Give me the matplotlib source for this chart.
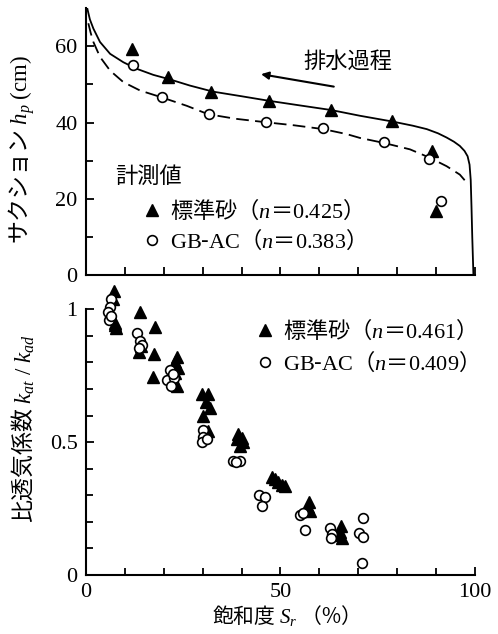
import matplotlib
matplotlib.use("Agg")
import matplotlib.pyplot as plt
from matplotlib.ticker import FixedLocator, NullFormatter

plt.rcParams['font.family'] = ['Liberation Serif', 'Noto Sans CJK JP']
plt.rcParams['mathtext.fontset'] = 'custom'
plt.rcParams['mathtext.rm'] = 'Liberation Serif'
plt.rcParams['mathtext.it'] = 'Liberation Serif:italic'
plt.rcParams['mathtext.bf'] = 'Liberation Serif:bold'
JP = 'Noto Sans CJK JP'

# 水分特性曲線（排水過程）の計測値
sr_std_top = [11.7, 21.2, 32.1, 47.1, 63.0, 78.7, 89.0, 90.0]
hp_std_top = [59.3, 51.9, 48.1, 45.7, 43.3, 40.3, 32.6, 16.8]
sr_gb_top = [12.2, 19.5, 31.6, 46.2, 61.0, 76.6, 88.2, 91.2]
hp_gb_top = [55.0, 46.6, 42.2, 40.1, 38.6, 34.8, 30.4, 19.4]

# フィット曲線（実線: 標準砂, 破線: GB-AC）
sr_std_fit = [0.3, 1.0, 1.9, 3.6, 6.2, 9.6, 13.0, 17.3, 21.6, 26.7, 32.7, 40.0,
              47.1, 55.0, 63.0, 70.4, 78.7, 84.0, 87.6, 90.5, 92.7, 94.6, 96.1,
              97.3, 98.1, 98.6, 98.9, 99.1, 99.3, 99.6]
hp_std_fit = [70.0, 67.0, 64.6, 61.1, 58.0, 55.8, 54.1, 52.5, 51.3, 49.7, 48.1, 46.9,
              45.7, 44.5, 43.3, 41.8, 40.3, 39.2, 38.3, 37.2, 36.1, 35.0, 33.9,
              32.6, 31.2, 29.0, 25.0, 18.0, 10.0, 0.0]
sr_gb_fit = [0.6, 1.2, 1.9, 3.6, 6.2, 9.6, 13.9, 19.5, 25.9, 31.4, 38.5, 46.2,
             53.5, 61.0, 67.0, 70.4, 76.5, 83.3, 88.4, 92.7, 96.1, 98.3]
hp_gb_fit = [66.0, 63.5, 61.1, 57.2, 53.6, 50.6, 48.4, 46.6, 44.4, 42.2, 41.0, 40.1,
             39.3, 38.3, 37.0, 36.0, 34.7, 33.0, 30.8, 28.6, 26.4, 23.8]

# 比透気係数
sr_std = [7.2, 7.0, 7.5, 7.8, 7.4,
          14.0, 17.7, 13.6, 14.2, 17.5, 17.3,
          23.3, 23.0, 23.6, 23.4, 22.8,
          29.8, 31.3, 30.8, 32.0, 30.2, 31.3,
          39.2, 38.8, 40.4, 39.6, 40.2,
          47.8, 48.6, 49.4, 50.4, 51.2,
          57.4, 57.0, 57.6,
          65.5, 65.2, 65.9, 64.6]
k_std = [1.07, 1.04, 0.95, 0.93, 0.94,
         0.99, 0.935, 0.84, 0.86, 0.83, 0.745,
         0.82, 0.80, 0.78, 0.71, 0.76,
         0.68, 0.68, 0.65, 0.63, 0.60, 0.54,
         0.53, 0.51, 0.50, 0.485, 0.515,
         0.37, 0.36, 0.35, 0.34, 0.335,
         0.275, 0.255, 0.24,
         0.185, 0.16, 0.14, 0.15]
sr_gb = [6.5, 6.2, 5.6, 5.9, 6.3,
         13.2, 13.8, 14.4, 13.6,
         21.6, 20.8, 22.6, 21.9, 22.3,
         30.2, 30.0, 29.7, 31.0,
         37.9, 39.6, 38.6,
         44.5, 46.0, 45.3,
         55.0, 55.9, 56.3,
         62.8, 63.3, 63.0,
         71.1, 70.3, 71.1, 70.9]
k_gb = [1.04, 1.01, 0.99, 0.96, 0.975,
        0.91, 0.88, 0.865, 0.855,
        0.77, 0.735, 0.74, 0.71, 0.755,
        0.545, 0.52, 0.50, 0.51,
        0.43, 0.43, 0.425,
        0.30, 0.295, 0.26,
        0.225, 0.235, 0.17,
        0.175, 0.155, 0.14,
        0.213, 0.159, 0.142, 0.046]

lab_std_top = "標準砂（$n$＝$0.425$）"
lab_gb_top = "$\\mathrm{GB}$-$\\mathrm{AC}$（$n$＝$0.383$）"
lab_std = "標準砂（$n$＝$0.461$）"
lab_gb = "$\\mathrm{GB}$-$\\mathrm{AC}$（$n$＝$0.409$）"

tri = dict(marker='^', ls='none', ms=8, color='k')
circ = dict(marker='o', ls='none', ms=7, mfc='white', mec='k', mew=1.2)


def style_axes(ax):
    ax.spines['top'].set_visible(False)
    ax.spines['right'].set_visible(False)
    ax.spines['left'].set_linewidth(1.5)
    ax.spines['bottom'].set_linewidth(1.5)
    ax.tick_params(which='both', direction='in', width=1.3, labelsize=16, pad=6)
    ax.tick_params(which='major', length=6)
    ax.tick_params(which='minor', length=5)


fig = plt.figure(figsize=(4.98, 6.34), dpi=100)

# 上段: サクション
ax1 = fig.add_axes([0.1727, 0.5655, 0.7811, 0.4219])
ax1.plot(sr_std_fit, hp_std_fit, 'k-', lw=1.3)
ax1.plot(sr_gb_fit, hp_gb_fit, 'k--', lw=1.3, dashes=(7, 3.5))
p1, = ax1.plot(sr_std_top, hp_std_top, label=lab_std_top, **tri)
p2, = ax1.plot(sr_gb_top, hp_gb_top, label=lab_gb_top, **circ)
ax1.set_xlim(0, 100)
ax1.set_ylim(0, 70)
style_axes(ax1)
ax1.xaxis.set_major_locator(FixedLocator(range(0, 101, 10)))
ax1.xaxis.set_major_formatter(NullFormatter())
ax1.yaxis.set_major_locator(FixedLocator([0, 20, 40, 60]))
ax1.yaxis.set_minor_locator(FixedLocator([10, 30, 50]))
ax1.set_ylabel("サクション $h_p$ $\\mathrm{(cm)}$", family=JP, fontsize=16.5)
ax1.yaxis.set_label_coords(-0.125, 0.47)

ax1.annotate('', xy=(44.3, 52.8), xytext=(64.4, 49.3),
             arrowprops=dict(arrowstyle='-|>', lw=1.5, color='k', mutation_scale=11))
ax1.text(55.8, 56.0, "排水過程", family=JP, fontsize=16, ha='left', va='center')
ax1.text(7.5, 25.9, "計測値", family=JP, fontsize=16, ha='left', va='center')
ax1.legend(handles=[p1, p2], loc='upper left', bbox_to_anchor=(0.140, 0.29),
           frameon=False, prop=dict(family=JP, size=16), handlelength=1.0,
           handletextpad=0.32, borderpad=0, borderaxespad=0, labelspacing=0.18)

# 下段: 比透気係数
ax2 = fig.add_axes([0.1727, 0.0931, 0.7811, 0.461])
ax2.plot(sr_std, k_std, label=lab_std, **tri)
ax2.plot(sr_gb, k_gb, label=lab_gb, **circ)
ax2.set_xlim(0, 100)
ax2.set_ylim(0, 1.1)
style_axes(ax2)
ax2.spines['left'].set_bounds(0, 1)
ax2.xaxis.set_major_locator(FixedLocator([0, 50, 100]))
ax2.xaxis.set_minor_locator(FixedLocator([10, 20, 30, 40, 60, 70, 80, 90]))
ax2.yaxis.set_major_locator(FixedLocator([0, 0.5, 1]))
ax2.yaxis.set_minor_locator(FixedLocator([0.1, 0.2, 0.3, 0.4, 0.6, 0.7, 0.8, 0.9]))
ax2.set_yticklabels(['0', '0.5', '1'])
ax2.set_ylabel("比透気係数 $k_{at}\\ /\\ k_{ad}$", family=JP, fontsize=16.5)
ax2.yaxis.set_label_coords(-0.125, 0.50)
ax2.set_xlabel("飽和度 $S_r$ （%）", family=JP, fontsize=15, labelpad=0.5)
ax2.legend(loc='upper left', bbox_to_anchor=(0.431, 0.882), frameon=False,
           prop=dict(family=JP, size=16), handlelength=1.0, handletextpad=0.32,
           borderpad=0, borderaxespad=0, labelspacing=0.33)

plt.savefig("out.png", dpi=100)
plt.close()
